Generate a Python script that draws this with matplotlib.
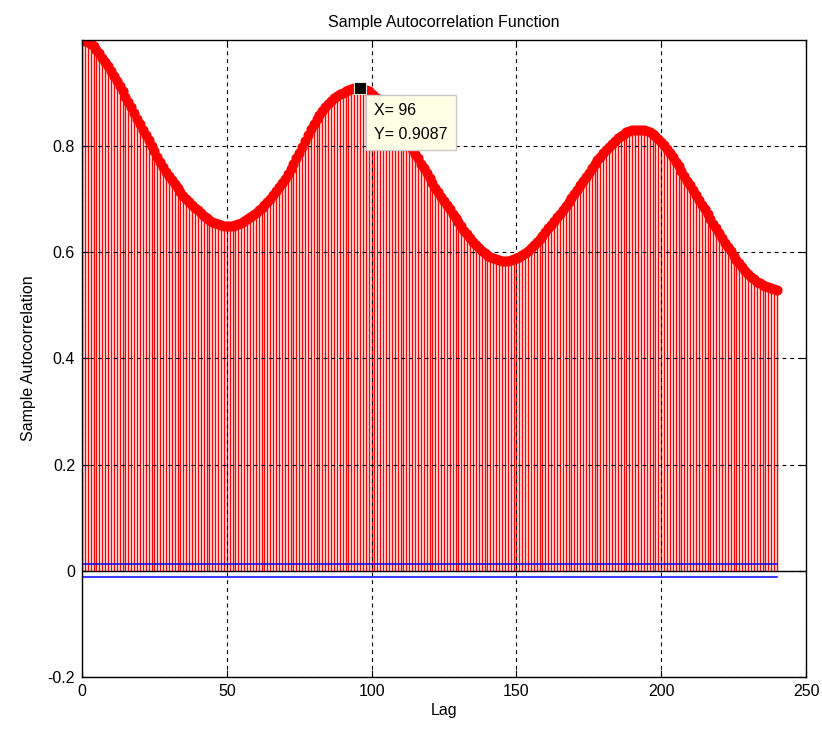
import numpy as np
import matplotlib
matplotlib.use("Agg")
import matplotlib.pyplot as plt

# Sample autocorrelation values for lags 0..240
acf = [
    1.000, 0.999, 0.997, 0.993, 0.988, 0.982, 0.975, 0.967, 0.959, 0.951,
    0.942, 0.933, 0.923, 0.913, 0.903, 0.893, 0.883, 0.873, 0.862, 0.852,
    0.842, 0.831, 0.821, 0.811, 0.800, 0.790, 0.780, 0.770, 0.761, 0.752,
    0.744, 0.736, 0.728, 0.721, 0.714, 0.707, 0.701, 0.695, 0.689, 0.684,
    0.679, 0.674, 0.669, 0.665, 0.661, 0.658, 0.655, 0.653, 0.651, 0.650,
    0.649, 0.649, 0.650, 0.651, 0.653, 0.656, 0.659, 0.663, 0.667, 0.671,
    0.675, 0.679, 0.684, 0.689, 0.695, 0.701, 0.708, 0.715, 0.723, 0.731,
    0.739, 0.748, 0.757, 0.767, 0.777, 0.788, 0.799, 0.810, 0.821, 0.832,
    0.842, 0.851, 0.859, 0.866, 0.873, 0.879, 0.885, 0.890, 0.894, 0.898,
    0.901, 0.904, 0.906, 0.908, 0.909, 0.909, 0.9087, 0.908, 0.906, 0.903,
    0.899, 0.895, 0.890, 0.884, 0.878, 0.871, 0.864, 0.856, 0.848, 0.840,
    0.831, 0.822, 0.813, 0.804, 0.795, 0.786, 0.777, 0.767, 0.758, 0.749,
    0.740, 0.731, 0.722, 0.714, 0.705, 0.697, 0.689, 0.681, 0.673, 0.665,
    0.657, 0.649, 0.641, 0.634, 0.627, 0.620, 0.614, 0.608, 0.603, 0.599,
    0.595, 0.592, 0.589, 0.587, 0.585, 0.584, 0.584, 0.584, 0.585, 0.587,
    0.589, 0.592, 0.595, 0.599, 0.603, 0.608, 0.613, 0.619, 0.625, 0.631,
    0.638, 0.645, 0.652, 0.659, 0.666, 0.673, 0.680, 0.687, 0.694, 0.702,
    0.710, 0.718, 0.726, 0.734, 0.742, 0.750, 0.758, 0.766, 0.773, 0.780,
    0.787, 0.793, 0.799, 0.805, 0.810, 0.815, 0.819, 0.823, 0.826, 0.828,
    0.830, 0.831, 0.831, 0.831, 0.830, 0.828, 0.826, 0.823, 0.819, 0.814,
    0.808, 0.802, 0.795, 0.788, 0.780, 0.771, 0.762, 0.753, 0.744, 0.735,
    0.726, 0.717, 0.708, 0.699, 0.690, 0.681, 0.672, 0.663, 0.654, 0.645,
    0.636, 0.627, 0.618, 0.610, 0.602, 0.594, 0.586, 0.579, 0.572, 0.565,
    0.559, 0.554, 0.549, 0.545, 0.542, 0.539, 0.536, 0.534, 0.532, 0.530,
    0.529,
]
lags = np.arange(len(acf))

conf_bound = 0.0122       # approximate confidence bound
tip_lag = 96              # data tip location
tip_value = 0.9087

x_ticks = [0, 50, 100, 150, 200, 250]
y_ticks = [-0.2, 0, 0.2, 0.4, 0.6, 0.8]
y_tick_labels = ["-0.2", "0", "0.2", "0.4", "0.6", "0.8"]

plt.rcParams["font.family"] = ["Liberation Sans", "DejaVu Sans"]

fig = plt.figure(figsize=(8.22, 7.33), dpi=100)
ax = fig.add_axes([82 / 822, 1 - 677 / 733, (806 - 82) / 822, (677 - 40) / 733])

# stems
ax.vlines(lags, 0, acf, colors="#ff0000", linewidth=1.05, zorder=1)
# baseline
ax.axhline(0, color="black", linewidth=1.0, zorder=2.6)
# confidence bounds
ax.plot([lags[0], lags[-1]], [conf_bound, conf_bound], color="#0000ff", linewidth=1.1, zorder=2.7)
ax.plot([lags[0], lags[-1]], [-conf_bound, -conf_bound], color="#0000ff", linewidth=1.1, zorder=2.7)
# stem heads
ax.plot(lags, acf, linestyle="none", marker="o", markersize=6.3,
        markerfacecolor="#ff0000", markeredgecolor="#ff0000", zorder=3)

ax.set_xlim(0, 250)
ax.set_ylim(-0.2, 1.0)
ax.set_xticks(x_ticks)
ax.set_yticks(y_ticks)
ax.set_yticklabels(y_tick_labels)
ax.set_axisbelow(False)
ax.grid(True, color="black", linestyle=(0, (3.5, 3.5)), linewidth=0.8)
ax.tick_params(direction="in", top=True, right=True, length=5, width=0.8,
               labelsize=11.5, pad=5, colors="black")
for s in ax.spines.values():
    s.set_linewidth(1.0)
    s.set_zorder(4)

ax.set_title("Sample Autocorrelation Function", fontsize=11.5, pad=9)
ax.set_xlabel("Lag", fontsize=11.5, labelpad=3)
ax.set_ylabel("Sample Autocorrelation", fontsize=11.5, labelpad=8)

# data tip
ax.plot([tip_lag], [tip_value], marker="s", markersize=8.5, color="black",
        markeredgecolor="#e0e0e0", markeredgewidth=0.8, linestyle="none", zorder=6)
ax.annotate(f"X= {tip_lag}\nY= {tip_value}", xy=(tip_lag, tip_value),
            xycoords="data", textcoords="offset pixels", xytext=(14, -15),
            ha="left", va="top", fontsize=11.5, linespacing=1.75, zorder=7,
            bbox=dict(boxstyle="square,pad=0.5", facecolor="#ffffe6",
                      edgecolor="#c8c8c8", linewidth=1.0))

fig.savefig("out.png", dpi=100, facecolor="white")
